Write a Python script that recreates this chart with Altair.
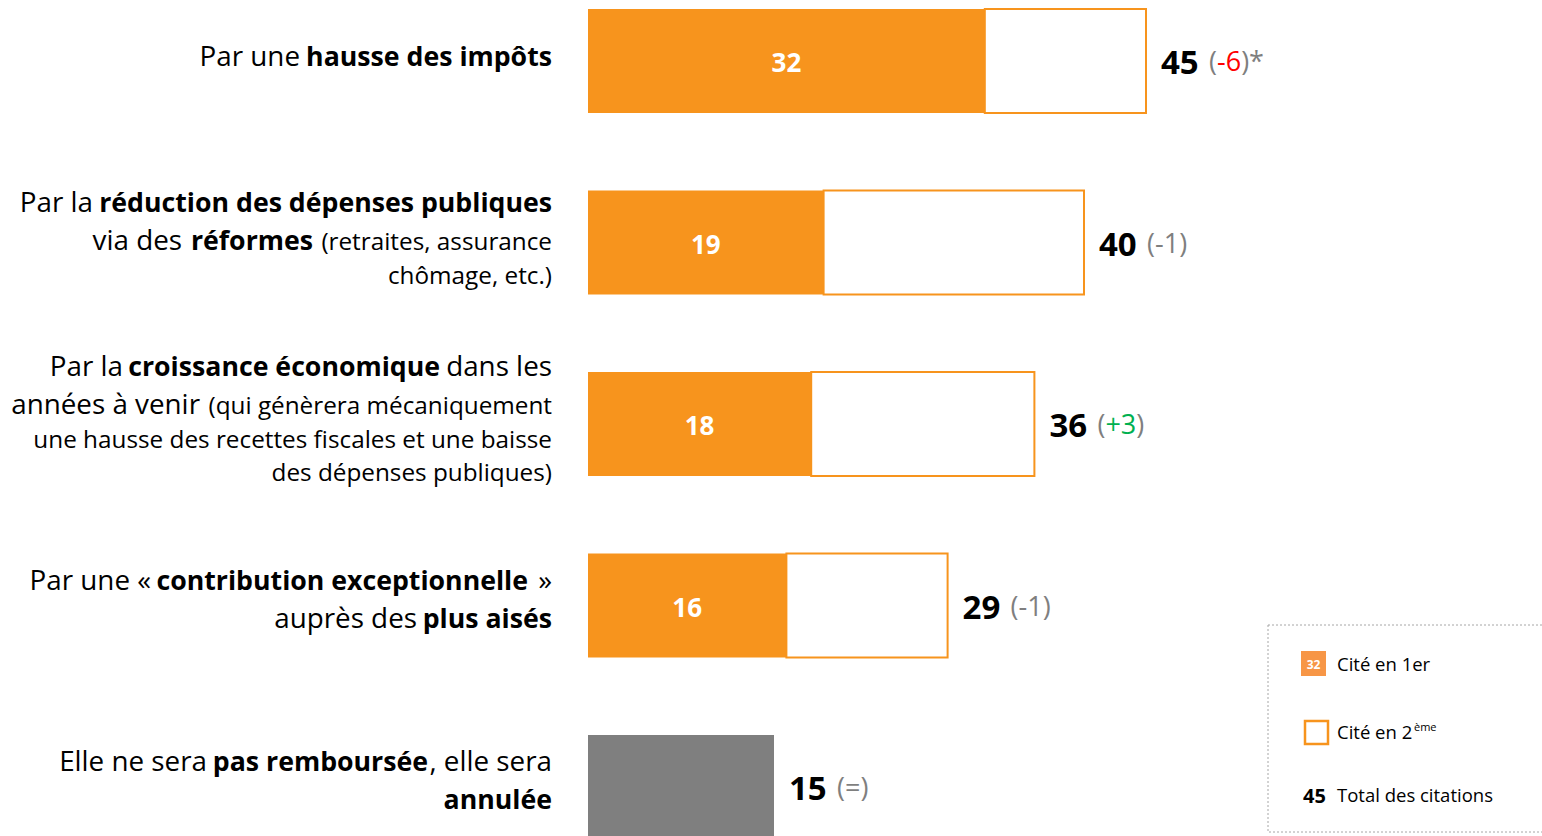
import altair as alt
import pandas as pd

# ---------------- data ----------------
rows = [0, 1, 2, 3, 4]
first_cited = [32, 19, 18, 16, None]          # Cité en 1er
totals = [45, 40, 36, 29, 15]                 # Total des citations
change_core = ["-6", "-1", "+3", "-1", "="]
change_color = ["#FF0000", "#7F7F7F", "#00B050", "#7F7F7F", "#7F7F7F"]
change_star = ["*", "", "", "", ""]

# left label text segments
label_text = ["Par une", "hausse des impôts",
              "Par la", "réduction des dépenses publiques",
              "via des", "réformes", "(retraites, assurance",
              "chômage, etc.)",
              "Par la", "croissance économique", "dans les",
              "années à venir", "(qui génèrera mécaniquement",
              "une hausse des recettes fiscales et une baisse",
              "des dépenses publiques)",
              "Par une «", "contribution exceptionnelle", "»",
              "auprès des", "plus aisés",
              "Elle ne sera", "pas remboursée", ", elle sera",
              "annulée"]
label_style = ["reg", "bold",
               "reg", "bold",
               "reg", "bold", "small",
               "small",
               "reg", "bold", "reg",
               "reg", "small",
               "small",
               "small",
               "reg", "bold", "reg",
               "reg", "bold",
               "reg", "bold", "reg",
               "bold"]
# layout of the label segments: right edge px, baseline px
label_right = [300, 552,
               93, 552,
               182, 313, 552,
               552,
               123, 440, 552,
               200, 552,
               552,
               552,
               151, 528, 552,
               417, 552,
               207, 428, 552,
               552]
label_base = [66, 66,
              212, 212,
              250, 250, 250,
              284,
              376, 376, 376,
              414, 414,
              448,
              481,
              590, 590, 590,
              628, 628,
              771, 771, 771,
              809]

# ---------------- layout ----------------
W, H = 1542, 836
X0, PPU = 588, 12.4          # pixel of value 0, pixels per unit
Y0, STEP = 61, 181.5         # centre of first row, row step
BAR_HALF = 52 / STEP
FONT = "Open Sans"
ORANGE = "#F7941D"
GREY = "#7F7F7F"
CHG_SIZE = 27
# Open Sans advance widths (em)
EMW = {"(": 0.296, ")": 0.296, "-": 0.322, "+": 0.572, "=": 0.572}
def em_width(s):
    return sum(EMW.get(ch, 0.572) for ch in s)

xdom = [-X0 / PPU, (W - X0) / PPU]
ydom = [-Y0 / STEP, (H - Y0) / STEP]
xs = alt.Scale(domain=xdom, nice=False, zero=False)
ys = alt.Scale(domain=ydom, nice=False, zero=False, reverse=True)

df = pd.DataFrame({"row": rows, "first": first_cited, "total": totals})
df["start"] = 0

base = alt.Chart(df).transform_calculate(
    ytop="datum.row - %f" % BAR_HALF, ybot="datum.row + %f" % BAR_HALF
)

orange_bar = base.transform_filter("isValid(datum.first)").mark_rect(color=ORANGE).encode(
    x=alt.X("start:Q", scale=xs, axis=None), x2="first:Q",
    y=alt.Y("ytop:Q", scale=ys, axis=None), y2="ybot:Q")

white_bar = base.transform_filter("isValid(datum.first)").mark_rect(
    fill="white", stroke=ORANGE, strokeWidth=2).encode(
    x=alt.X("first:Q", scale=xs, axis=None), x2="total:Q",
    y=alt.Y("ytop:Q", scale=ys, axis=None), y2="ybot:Q")

grey_bar = base.transform_filter("!isValid(datum.first)").mark_rect(color=GREY).encode(
    x=alt.X("start:Q", scale=xs, axis=None), x2="total:Q",
    y=alt.Y("ytop:Q", scale=ys, axis=None), y2="ybot:Q")

inside_lbl = base.transform_filter("isValid(datum.first)").transform_calculate(
    mid="datum.first / 2").mark_text(
    font=FONT, fontSize=26, fontWeight="bold", color="white", baseline="middle",
    align="center", dy=3
).encode(x=alt.X("mid:Q", scale=xs, axis=None), y=alt.Y("row:Q", scale=ys, axis=None),
         text="first:Q")

total_lbl = base.mark_text(
    font=FONT, fontSize=33, fontWeight="bold", color="black", baseline="middle",
    align="left", dx=15, dy=3
).encode(x=alt.X("total:Q", scale=xs, axis=None), y=alt.Y("row:Q", scale=ys, axis=None),
         text="total:Q")

# change labels: "(" core ")" "*"
seg_rows, seg_text, seg_col, seg_off = [], [], [], []
for r, c, col, st in zip(rows, change_core, change_color, change_star):
    off = 63
    pieces = [("(", GREY), (c, col), (")", GREY)] + ([(st, GREY)] if st else [])
    for t, cc in pieces:
        seg_rows.append(r); seg_text.append(t); seg_col.append(cc); seg_off.append(off)
        off += em_width(t) * CHG_SIZE
chg = pd.DataFrame({"row": seg_rows, "txt": seg_text, "col": seg_col, "off": seg_off})
chg["total"] = [totals[r] for r in chg["row"]]
change_lbl = alt.Chart(chg).transform_calculate(
    xx="datum.total + datum.off / %f" % PPU
).mark_text(font=FONT, fontSize=CHG_SIZE, baseline="middle", align="left", dy=2).encode(
    x=alt.X("xx:Q", scale=xs, axis=None), y=alt.Y("row:Q", scale=ys, axis=None),
    text="txt:N", color=alt.Color("col:N", scale=None))

# left labels
lab = pd.DataFrame({"txt": label_text, "style": label_style,
                    "px": label_right, "py": label_base})
lab_base = alt.Chart(lab)
def lab_layer(style, size, weight):
    return lab_base.transform_filter(alt.datum.style == style).mark_text(
        font=FONT, fontSize=size, fontWeight=weight, color="black",
        align="right", baseline="alphabetic").encode(
        x=alt.X("px:Q", scale=None), y=alt.Y("py:Q", scale=None), text="txt:N")

lab_reg = lab_layer("reg", 27.8, "normal")
lab_bold = lab_layer("bold", 26.7, "bold")
lab_small = lab_layer("small", 24.3, "normal")

# legend
leg_box = alt.Chart(pd.DataFrame({"a": [0]})).mark_rect(
    fill="white", stroke="#A6A6A6", strokeWidth=1, strokeDash=[2, 2]).encode(
    x=alt.value(1268), x2=alt.value(1560), y=alt.value(625), y2=alt.value(832))

leg_items = pd.DataFrame({"txt": ["Cité en 1er", "Cité en 2", "Total des citations"],
                          "py": [671, 739, 802]})
leg_text = alt.Chart(leg_items).mark_text(
    font=FONT, fontSize=18.5, color="black", align="left", baseline="alphabetic").encode(
    x=alt.value(1337), y=alt.Y("py:Q", scale=None), text="txt:N")
leg_sup = alt.Chart(pd.DataFrame({"t": ["ème"]})).mark_text(
    font=FONT, fontSize=11, color="black", align="left", baseline="alphabetic").encode(
    x=alt.value(1414), y=alt.value(731), text="t:N")
leg_sq1 = alt.Chart(pd.DataFrame({"a": [0]})).mark_rect(fill="#F79646").encode(
    x=alt.value(1301), x2=alt.value(1326), y=alt.value(651), y2=alt.value(676))
leg_sq1_t = alt.Chart(pd.DataFrame({"t": ["32"]})).mark_text(
    font=FONT, fontSize=12, fontWeight="bold", color="white", align="center", baseline="middle").encode(
    x=alt.value(1313.5), y=alt.value(665), text="t:N")
leg_sq2 = alt.Chart(pd.DataFrame({"a": [0]})).mark_rect(
    fill="white", stroke=ORANGE, strokeWidth=2.5).encode(
    x=alt.value(1305), x2=alt.value(1328), y=alt.value(721), y2=alt.value(744))
leg_45 = alt.Chart(pd.DataFrame({"t": ["45"]})).mark_text(
    font=FONT, fontSize=20, fontWeight="bold", color="black", align="left", baseline="alphabetic").encode(
    x=alt.value(1303), y=alt.value(803), text="t:N")

chart = alt.layer(
    grey_bar, orange_bar, white_bar, inside_lbl, total_lbl, change_lbl,
    lab_reg, lab_bold, lab_small,
    leg_box, leg_sq1, leg_sq1_t, leg_sq2, leg_text, leg_sup, leg_45,
).resolve_scale(color="independent").properties(
    width=W, height=H, padding=0, autosize="none", background="white"
).configure_view(stroke=None)

chart.save("out.html", embed_options={"renderer": "svg", "actions": False})
